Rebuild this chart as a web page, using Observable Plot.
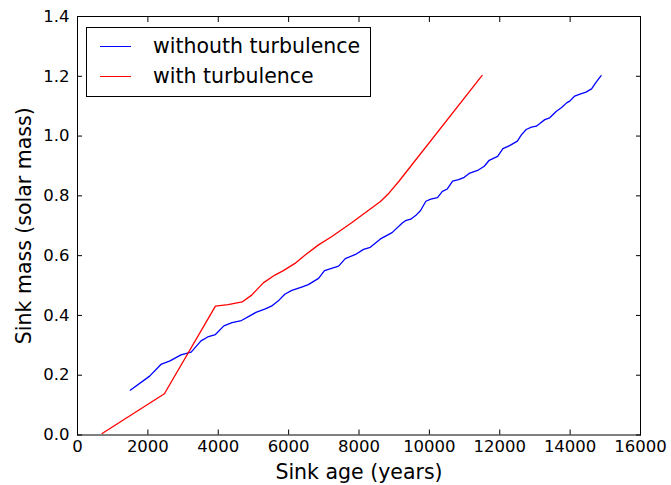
<!DOCTYPE html>
<html><head><meta charset="utf-8">
<script src="https://cdn.jsdelivr.net/npm/d3@7"></script>
<script src="https://cdn.jsdelivr.net/npm/@observablehq/plot@0.6"></script>
<style>
body{margin:0;background:#fff;}
#wrap{position:relative;width:671px;height:485px;font-family:"DejaVu Sans",sans-serif;}
#legend{position:absolute;left:86px;top:27px;width:285px;height:70px;border:1px solid #000;background:#fff;box-sizing:border-box;font-size:20.5px;color:#000;}
.row{position:absolute;left:0;height:24px;}
.sw{position:absolute;left:13px;width:31px;height:0;border-top:1.3px solid;}
.lt{position:absolute;left:66px;white-space:nowrap;line-height:24px;}
</style>
</head><body>
<div id="wrap"><div id="legend"></div></div>
<script>
const seriesNames = ["withouth turbulence", "with turbulence"];
const seriesColors = ["#0000ff", "#ff0000"];

const noTurbAge = [1500,2050,2370,2630,2940,3230,3510,3700,3920,4160,4390,4660,5070,5320,5510,5700,5890,6090,6370,6560,6850,7020,7420,7610,7900,8130,8320,8610,8940,9230,9320,9470,9610,9750,9900,10040,10230,10370,10510,10660,10830,10990,11130,11370,11560,11700,11940,12090,12280,12500,12610,12750,12900,13040,13130,13280,13420,13610,13750,13900,13990,14130,14280,14450,14610,14730,14880];
const noTurbMass = [0.150,0.197,0.236,0.248,0.268,0.277,0.315,0.328,0.336,0.365,0.376,0.383,0.410,0.421,0.431,0.448,0.471,0.484,0.495,0.503,0.524,0.550,0.565,0.590,0.604,0.621,0.628,0.656,0.677,0.709,0.717,0.722,0.734,0.751,0.782,0.789,0.794,0.815,0.823,0.849,0.854,0.862,0.875,0.885,0.899,0.919,0.932,0.958,0.968,0.983,1.003,1.022,1.030,1.033,1.041,1.055,1.061,1.083,1.095,1.111,1.117,1.134,1.140,1.147,1.158,1.179,1.202];

const turbAge = [700,2470,3920,4280,4680,4950,5280,5610,5850,6180,6470,6850,7230,7800,8320,8610,8850,9130,11500];
const turbMass = [0.005,0.138,0.431,0.436,0.445,0.468,0.509,0.535,0.550,0.574,0.602,0.636,0.664,0.711,0.756,0.781,0.809,0.848,1.203];

const xTicks = [0,2000,4000,6000,8000,10000,12000,14000,16000];
const yTicks = [0.0,0.2,0.4,0.6,0.8,1.0,1.2,1.4];
const xLabel = "Sink age (years)";
const yLabel = "Sink mass (solar mass)";

const noTurb = noTurbAge.map((a,i)=>({age:a, mass:noTurbMass[i]}));
const turb = turbAge.map((a,i)=>({age:a, mass:turbMass[i]}));

const chart = Plot.plot({
  width: 671, height: 485,
  marginLeft: 77, marginRight: 31, marginTop: 16, marginBottom: 50.5,
  style: {fontFamily: "DejaVu Sans, sans-serif", fontSize: "16.5px", color: "#000", background: "#fff", overflow: "visible"},
  x: {domain: [0,16000]},
  y: {domain: [0,1.4]},
  marks: [
    Plot.line(noTurb, {x:"age", y:"mass", stroke: seriesColors[0], strokeWidth: 1.3}),
    Plot.line(turb, {x:"age", y:"mass", stroke: seriesColors[1], strokeWidth: 1.3}),
    Plot.axisX({ticks: xTicks, tickSize: -5, tickPadding: 10.5, tickFormat: d => String(d), label: null, fontSize: 16.5}),
    Plot.axisX({anchor: "top", ticks: xTicks, tickSize: -5, tickFormat: () => "", label: null}),
    Plot.axisY({ticks: yTicks, tickSize: -5, tickPadding: 13, tickFormat: d3.format(".1f"), label: null, fontSize: 16.5}),
    Plot.axisY({anchor: "right", ticks: yTicks, tickSize: -5, tickFormat: () => "", label: null}),
    Plot.frame({stroke: "#000", strokeWidth: 1}),
    Plot.text([xLabel], {text: d => d, frameAnchor: "bottom", textAnchor: "middle", lineAnchor: "middle", dy: 37, fontSize: 20.5}),
    Plot.text([yLabel], {text: d => d, frameAnchor: "left", textAnchor: "middle", lineAnchor: "middle", dx: -53, rotate: -90, fontSize: 20.5})
  ]
});
document.getElementById("wrap").prepend(chart);

const legend = document.getElementById("legend");
seriesNames.forEach((name, i) => {
  const row = document.createElement("div");
  row.className = "row";
  row.style.top = (6 + i*30) + "px";
  row.style.width = "100%";
  const sw = document.createElement("div");
  sw.className = "sw";
  sw.style.top = "12px";
  sw.style.borderTopColor = seriesColors[i];
  const t = document.createElement("div");
  t.className = "lt";
  t.textContent = name;
  row.appendChild(sw); row.appendChild(t);
  legend.appendChild(row);
});
</script>
</body></html>
